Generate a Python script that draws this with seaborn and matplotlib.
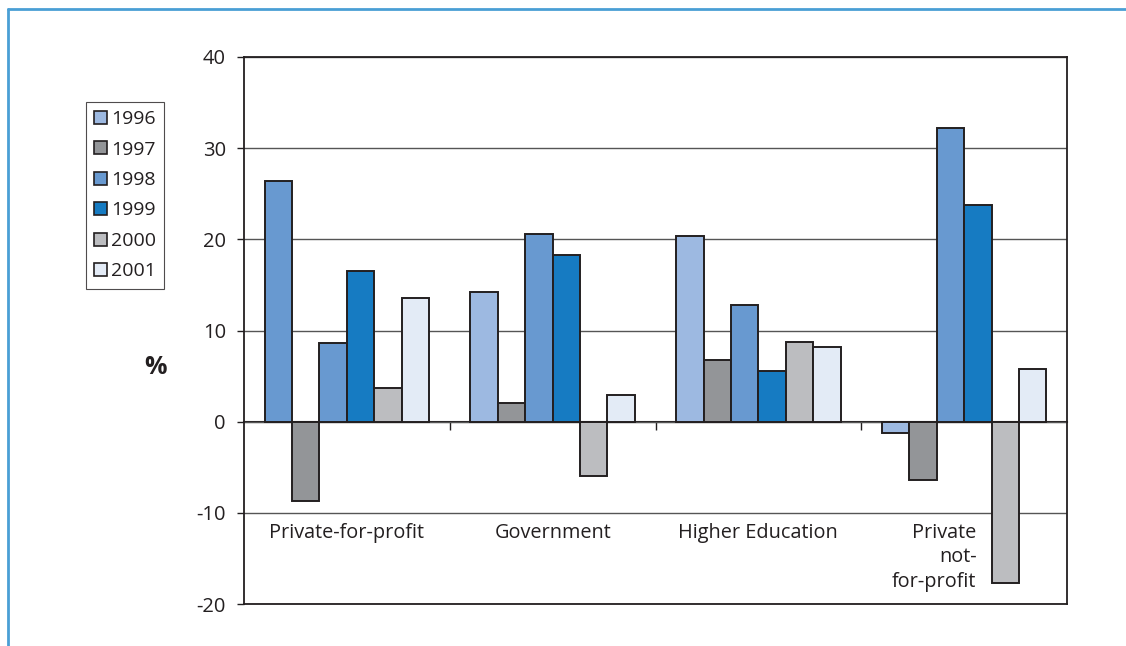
import matplotlib
matplotlib.use("Agg")
import matplotlib.pyplot as plt
from matplotlib.lines import Line2D
from matplotlib.patches import Patch
import pandas as pd
import seaborn as sns

# Annual growth of R&D expenditure by sector (%)
sectors = ["Private-for-profit", "Government", "Higher Education", "Private\nnot-\nfor-profit"]
years = ["1996", "1997", "1998", "1999", "2000", "2001"]
growth_1996 = [26.4, 14.2, 20.4, -1.2]
growth_1997 = [-8.7, 2.1, 6.8, -6.4]
growth_1998 = [8.6, 20.6, 12.8, 32.2]
growth_1999 = [16.5, 18.3, 5.6, 23.8]
growth_2000 = [3.7, -6.0, 8.7, -17.7]
growth_2001 = [13.6, 2.9, 8.2, 5.8]
y_ticks = [-20, -10, 0, 10, 20, 30, 40]

year_colors = ["#9db9e1", "#939598", "#6899d0", "#167bc2", "#bcbdc0", "#e3ebf6"]
ink = "#231f20"

series = [growth_1996, growth_1997, growth_1998, growth_1999, growth_2000, growth_2001]
df = pd.DataFrame(
    [(s, y, v) for y, vals in zip(years, series) for s, v in zip(sectors, vals)],
    columns=["sector", "year", "value"],
)

sns.set_style("white")
plt.rcParams["font.family"] = ["Open Sans", "DejaVu Sans"]

W, H = 1126, 646
fig = plt.figure(figsize=(W / 100, H / 100), dpi=100)
ax = fig.add_axes([244 / W, 42 / H, 823 / W, 547 / H])

sns.barplot(
    data=df, x="sector", y="value", hue="year",
    order=sectors, hue_order=years, palette=year_colors,
    saturation=1, width=0.8, edgecolor=ink, linewidth=1.4,
    legend=False, ax=ax, zorder=3,
)

# the first private-for-profit bar is shaded like the 1998 series
first = min(ax.containers[0].patches, key=lambda p: p.get_x())
first.set_facecolor(year_colors[2])

ax.set_ylim(-20, 40)
ax.set_xlim(-0.5, len(sectors) - 0.5)
ax.set_yticks(y_ticks)
ax.set_yticklabels([str(t) for t in y_ticks], fontsize=14.5, color=ink)
ax.tick_params(axis="y", direction="out", length=5, width=1, color=ink, pad=8, left=True)
ax.set_xticks([])
ax.set_xlabel("")
ax.yaxis.grid(True, color="#555555", linewidth=1.0)
ax.set_axisbelow(True)
for sp in ax.spines.values():
    sp.set_color(ink)
    sp.set_linewidth(1.3)

# category axis crossing at zero, with ticks between groups
zero_pos = (0 - (-20)) / 60
sec = ax.secondary_xaxis(zero_pos)
sec.set_xticks([i + 0.5 for i in range(len(sectors) - 1)])
sec.set_xticklabels([])
sec.tick_params(axis="x", direction="out", length=6, width=1, color=ink)
for sp in sec.spines.values():
    sp.set_color(ink)
    sp.set_linewidth(1.5)

for i, name in enumerate(sectors):
    if "\n" in name:
        ax.text(i + 0.06, -11.1, name, ha="right", va="top", multialignment="right",
                fontsize=14.3, color=ink, linespacing=1.3)
    else:
        ax.text(i, -11.1, name, ha="center", va="top", fontsize=14.3, color=ink)

ax.set_ylabel("%", rotation=0, fontsize=18, fontweight="bold", color=ink, va="center", ha="center")
ax.yaxis.set_label_coords(-0.108, 0.433)

handles = [Patch(facecolor=c, edgecolor=ink, linewidth=1.2) for c in year_colors]
leg = ax.legend(
    handles, years, loc="upper left",
    bbox_to_anchor=(86 / W, 1 - 102 / H), bbox_transform=fig.transFigure,
    borderaxespad=0, frameon=True, fancybox=False, edgecolor=ink,
    fontsize=14, handlelength=0.65, handleheight=0.65, handletextpad=0.2,
    labelspacing=0.64, borderpad=0.42,
)
leg.get_frame().set_linewidth(0.8)
for t in leg.get_texts():
    t.set_color(ink)

# page frame
frame_color = "#4a9fd5"
fig.add_artist(Line2D([8 / W, 1], [1 - 9 / H] * 2, transform=fig.transFigure,
                      color=frame_color, linewidth=2))
fig.add_artist(Line2D([8 / W] * 2, [0, 1 - 9 / H], transform=fig.transFigure,
                      color=frame_color, linewidth=2))

fig.savefig("out.png", dpi=100)
